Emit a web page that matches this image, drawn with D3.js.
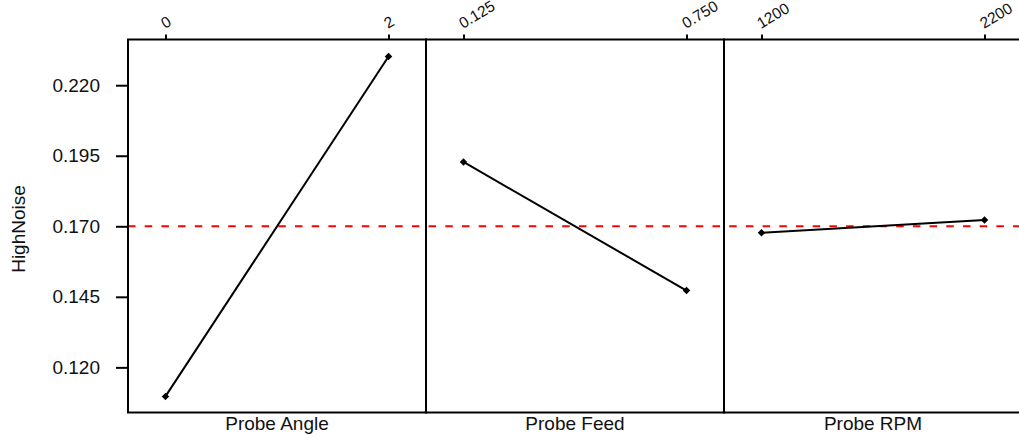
<!DOCTYPE html>
<html>
<head>
<meta charset="utf-8">
<script src="https://cdn.jsdelivr.net/npm/d3@7"></script>
<style>
  html, body { margin: 0; padding: 0; background: #ffffff; }
  svg { display: block; font-family: "Liberation Sans", Arial, sans-serif; }
</style>
</head>
<body>
<div id="chart"></div>
<script>
// ---- data ----
const factors = ["Probe Angle", "Probe Feed", "Probe RPM"];
const levelLabels = [["0", "2"], ["0.125", "0.750"], ["1200", "2200"]];
const levelMeans = [[0.1097, 0.2302], [0.1928, 0.1472], [0.1677, 0.1722]];
const grandMean = 0.170;
const yTickValues = [0.120, 0.145, 0.170, 0.195, 0.220];
const yLabel = "HighNoise";

// ---- layout ----
const W = 1019, H = 439;
const plotLeft = 128, plotTop = 39.5, plotBottom = 412.5, panelW = 298;
const font = "Liberation Sans, Arial, sans-serif";

const svg = d3.select("#chart").append("svg")
  .attr("width", W).attr("height", H);

const y = d3.scaleLinear().domain([0.104, 0.2362]).range([plotBottom, plotTop]);

// Red dashed grand mean line
svg.append("line")
  .attr("x1", plotLeft).attr("x2", plotLeft + panelW * factors.length)
  .attr("y1", y(grandMean)).attr("y2", y(grandMean))
  .attr("stroke", "#ff0000").attr("stroke-width", 2)
  .attr("stroke-dasharray", "7.5,9.2");

// Y axis
const yAxis = svg.append("g")
  .attr("transform", `translate(${plotLeft},0)`)
  .call(d3.axisLeft(y).tickValues(yTickValues).tickFormat(d3.format(".3f"))
    .tickSize(12).tickPadding(16).tickSizeOuter(0));
yAxis.select(".domain").remove();
yAxis.selectAll(".tick line").attr("stroke", "#000").attr("stroke-width", 2);
yAxis.selectAll(".tick text").attr("font-size", 19).attr("fill", "#111")
  .attr("font-family", font);

svg.append("text")
  .attr("transform", `translate(25,229) rotate(-90)`)
  .attr("text-anchor", "middle")
  .attr("font-size", 19).attr("fill", "#111").attr("font-family", font)
  .text(yLabel);

const line = d3.line();

factors.forEach((f, i) => {
  const x0 = plotLeft + panelW * i;
  const x = d3.scalePoint().domain(levelLabels[i]).range([0, panelW]).padding(0.168);
  const g = svg.append("g").attr("transform", `translate(${x0},0)`);

  // top axis
  const ax = g.append("g").attr("transform", `translate(0,${plotTop})`)
    .call(d3.axisTop(x).tickSize(5).tickSizeOuter(0));
  ax.select(".domain").remove();
  ax.selectAll(".tick line").attr("stroke", "#000").attr("stroke-width", 2);
  ax.selectAll(".tick text")
    .attr("x", 0).attr("y", 0).attr("dy", 0)
    .attr("text-anchor", "start")
    .attr("transform", "translate(-1,-10.5) rotate(-31)")
    .attr("font-size", 15.5).attr("fill", "#111")
    .attr("font-family", font);

  // data line
  const pts = levelLabels[i].map((l, j) => [x(l), y(levelMeans[i][j])]);
  g.append("path").attr("d", line(pts))
    .attr("fill", "none").attr("stroke", "#000").attr("stroke-width", 2);
  g.selectAll("path.pt").data(pts).join("path")
    .attr("class", "pt")
    .attr("transform", d => `translate(${d[0]},${d[1]}) rotate(45)`)
    .attr("d", d3.symbol().type(d3.symbolSquare).size(28))
    .attr("fill", "#000");

  // panel title
  g.append("text")
    .attr("x", panelW / 2).attr("y", 430)
    .attr("text-anchor", "middle")
    .attr("font-size", 19).attr("fill", "#111").attr("font-family", font)
    .text(f);

  // panel frame
  g.append("rect")
    .attr("x", 0).attr("y", plotTop).attr("width", panelW).attr("height", plotBottom - plotTop)
    .attr("fill", "none").attr("stroke", "#000").attr("stroke-width", 2);
});
</script>
</body>
</html>
